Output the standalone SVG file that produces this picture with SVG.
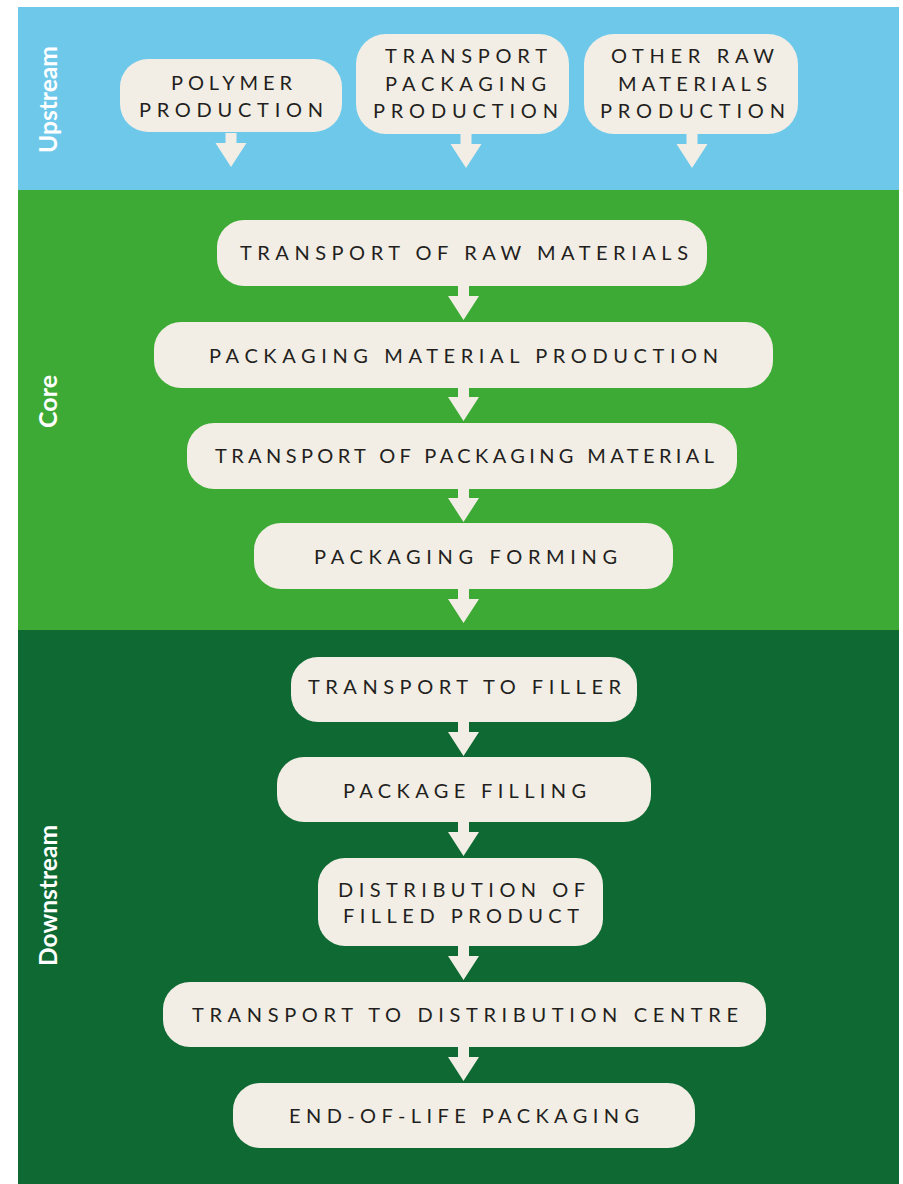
<svg xmlns="http://www.w3.org/2000/svg" xmlns:xlink="http://www.w3.org/1999/xlink" width="903" height="1184" viewBox="0 0 903 1184">
<style>
.box{fill:#F2EEE5}
.t{font-family:"Lato","Liberation Sans",sans-serif;font-size:20px;fill:#231f20}
.side{font-family:"Lato","Open Sans","Liberation Sans",sans-serif;font-size:24px;font-weight:700;fill:#ffffff}
.arr{fill:#F2EEE5}
</style>
<defs>
<path id="arrow" d="M-5.5,0 H5.5 V10 H15.5 L0,34 L-15.5,10 H-5.5 Z"/>
</defs>
<rect x="0" y="0" width="903" height="1184" fill="#ffffff"/>
<g id="bands">
<rect x="18" y="7" width="881" height="183" fill="#6EC8EA"/>
<rect x="18" y="190" width="881" height="440" fill="#3DAA35"/>
<rect x="18" y="630" width="881" height="554" fill="#0E6932"/>
<text class="side" transform="translate(57,153) rotate(-90)" textLength="107" lengthAdjust="spacingAndGlyphs">Upstream</text>
<text class="side" transform="translate(57,428) rotate(-90)" textLength="53" lengthAdjust="spacingAndGlyphs">Core</text>
<text class="side" transform="translate(57,966) rotate(-90)" textLength="141" lengthAdjust="spacingAndGlyphs">Downstream</text>
</g>
<g id="connectors" class="arr">
<use xlink:href="#arrow" transform="translate(231,133)"/>
<use xlink:href="#arrow" transform="translate(466,134)"/>
<use xlink:href="#arrow" transform="translate(692,134)"/>
<use xlink:href="#arrow" transform="translate(463.5,286)"/>
<use xlink:href="#arrow" transform="translate(463.5,387)"/>
<use xlink:href="#arrow" transform="translate(463.5,488)"/>
<use xlink:href="#arrow" transform="translate(463.5,589)"/>
<use xlink:href="#arrow" transform="translate(463.5,722)"/>
<use xlink:href="#arrow" transform="translate(463.5,822)"/>
<use xlink:href="#arrow" transform="translate(463.5,946)"/>
<use xlink:href="#arrow" transform="translate(463.5,1047)"/>
</g>
<g id="polymer-production">
<rect class="box" x="120" y="59" width="222" height="73" rx="28"/>
<text class="t" x="171" y="90" textLength="121" lengthAdjust="spacing">POLYMER</text>
<text class="t" x="139" y="117" textLength="184" lengthAdjust="spacing">PRODUCTION</text>
</g>
<g id="transport-packaging-production">
<rect class="box" x="356" y="34" width="213" height="100" rx="30"/>
<text class="t" x="385" y="63" textLength="162" lengthAdjust="spacing">TRANSPORT</text>
<text class="t" x="385" y="91" textLength="161" lengthAdjust="spacing">PACKAGING</text>
<text class="t" x="373" y="118" textLength="185" lengthAdjust="spacing">PRODUCTION</text>
</g>
<g id="other-raw-materials-production">
<rect class="box" x="584" y="34" width="214" height="100" rx="30"/>
<text class="t" x="611" y="63" textLength="163" lengthAdjust="spacing">OTHER RAW</text>
<text class="t" x="618" y="91" textLength="149" lengthAdjust="spacing">MATERIALS</text>
<text class="t" x="600" y="118" textLength="185" lengthAdjust="spacing">PRODUCTION</text>
</g>
<g id="transport-of-raw-materials">
<rect class="box" x="217" y="220" width="490" height="66" rx="27"/>
<text class="t" x="240" y="260" textLength="448" lengthAdjust="spacing">TRANSPORT OF RAW MATERIALS</text>
</g>
<g id="packaging-material-production">
<rect class="box" x="154" y="322" width="619" height="66" rx="27"/>
<text class="t" x="209" y="363" textLength="509" lengthAdjust="spacing">PACKAGING MATERIAL PRODUCTION</text>
</g>
<g id="transport-of-packaging-material">
<rect class="box" x="187" y="423" width="550" height="66" rx="27"/>
<text class="t" x="215" y="463" textLength="499" lengthAdjust="spacing">TRANSPORT OF PACKAGING MATERIAL</text>
</g>
<g id="packaging-forming">
<rect class="box" x="254" y="523" width="419" height="66" rx="27"/>
<text class="t" x="314" y="564" textLength="303" lengthAdjust="spacing">PACKAGING FORMING</text>
</g>
<g id="transport-to-filler">
<rect class="box" x="291" y="657" width="346" height="65" rx="27"/>
<text class="t" x="308" y="694" textLength="313" lengthAdjust="spacing">TRANSPORT TO FILLER</text>
</g>
<g id="package-filling">
<rect class="box" x="277" y="757" width="374" height="65" rx="27"/>
<text class="t" x="343" y="798" textLength="243" lengthAdjust="spacing">PACKAGE FILLING</text>
</g>
<g id="distribution-of-filled-product">
<rect class="box" x="318" y="858" width="285" height="88" rx="27"/>
<text class="t" x="338" y="897" textLength="247" lengthAdjust="spacing">DISTRIBUTION OF</text>
<text class="t" x="343" y="923" textLength="236" lengthAdjust="spacing">FILLED PRODUCT</text>
</g>
<g id="transport-to-distribution-centre">
<rect class="box" x="163" y="982" width="603" height="65" rx="27"/>
<text class="t" x="192" y="1022" textLength="546" lengthAdjust="spacing">TRANSPORT TO DISTRIBUTION CENTRE</text>
</g>
<g id="end-of-life-packaging">
<rect class="box" x="233" y="1083" width="462" height="65" rx="27"/>
<text class="t" x="289" y="1123" textLength="350" lengthAdjust="spacing">END-OF-LIFE PACKAGING</text>
</g>
</svg>
